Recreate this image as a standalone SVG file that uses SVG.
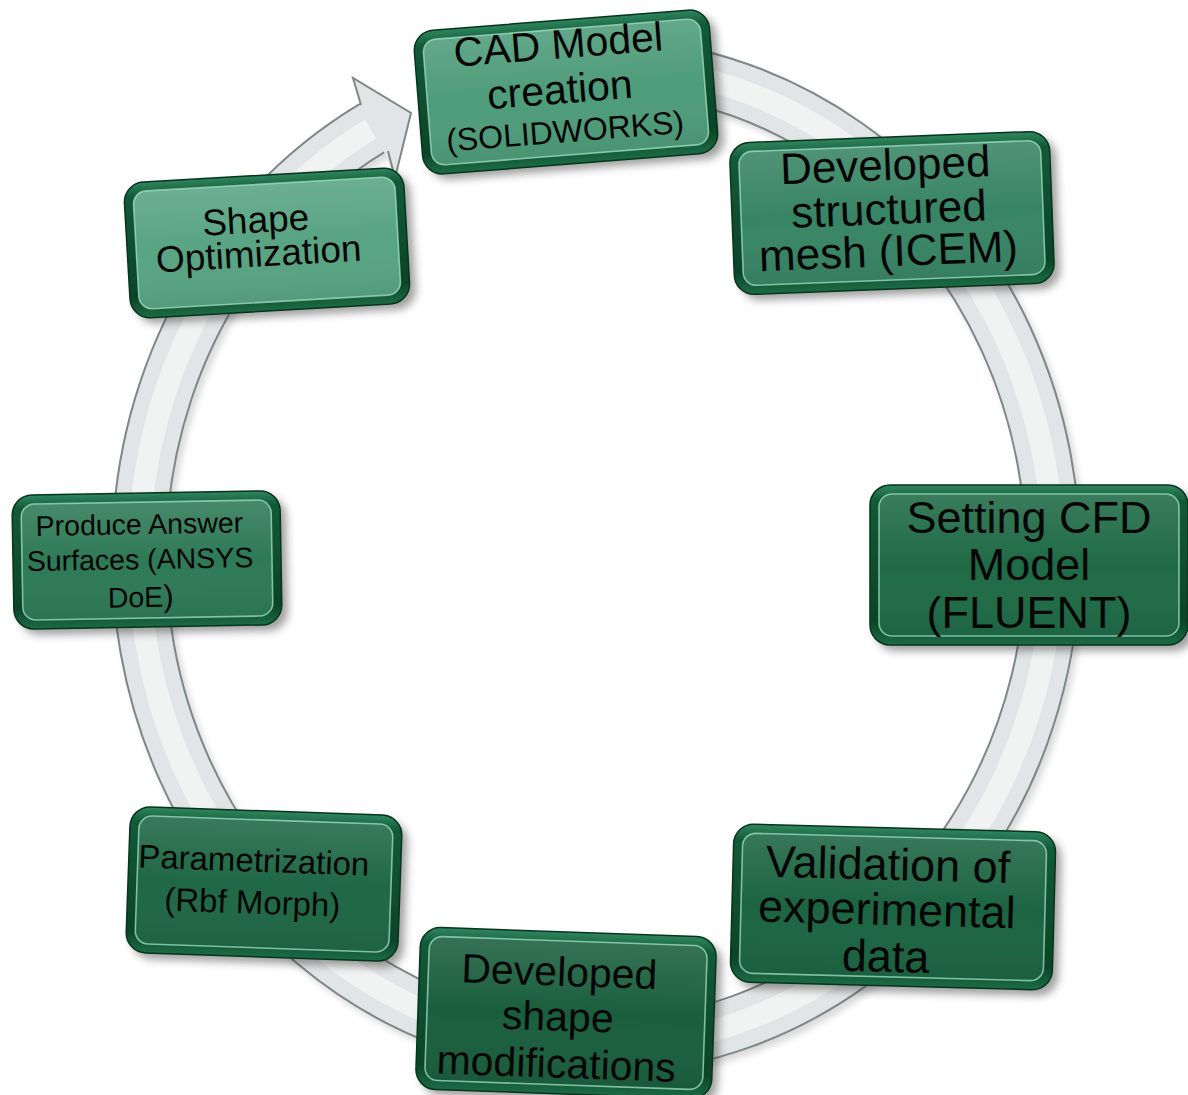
<svg xmlns="http://www.w3.org/2000/svg" width="1188" height="1095" viewBox="0 0 1188 1095">
<defs>
<filter id="blur" x="-20%" y="-20%" width="140%" height="140%"><feGaussianBlur stdDeviation="4"/></filter>
<filter id="rblur" x="-10%" y="-10%" width="120%" height="120%"><feGaussianBlur stdDeviation="3"/></filter>
<linearGradient id="frameG" x1="0" y1="0" x2="0" y2="1">
<stop offset="0" stop-color="#2f8660"/>
<stop offset="0.1" stop-color="#125a37"/>
<stop offset="0.85" stop-color="#0b4427"/>
<stop offset="1" stop-color="#1c6c47"/>
</linearGradient>
<linearGradient id="gloss" x1="0" y1="0" x2="0" y2="1">
<stop offset="0" stop-color="#ffffff" stop-opacity="0.12"/>
<stop offset="0.5" stop-color="#ffffff" stop-opacity="0"/>
<stop offset="1" stop-color="#000000" stop-opacity="0.06"/>
</linearGradient>
<style>
.sh{fill:#2a2a2a;opacity:.45;filter:url(#blur)}
.frame{fill:url(#frameG);stroke:#073519;stroke-width:1.5}
.gl{fill:url(#gloss)}
.hl{fill:none;stroke:#a3e0c4;stroke-opacity:.75;stroke-width:1.6}
.t{font-family:"Liberation Sans",Arial,sans-serif;fill:#060606;text-anchor:middle}
.ringEdge{fill:none;stroke:#7f8787;stroke-width:56}
.ringFace{fill:none;stroke:#e2e5e5;stroke-width:52}
.ringHl{fill:none;stroke:#f1f3f3;stroke-width:22}
</style>
</defs>
<rect width="1188" height="1095" fill="#ffffff"/>

<g id="connectors">
<path d="M 532.4 69.8 A 457 491 0 1 1 373.8 127" fill="none" stroke="#999" stroke-width="56" opacity=".35" filter="url(#rblur)" transform="translate(4 5)"/>
<path class="ringEdge" d="M 532.4 69.8 A 457 491 0 1 1 373.8 127"/>
<path class="ringFace" d="M 532.4 69.8 A 457 491 0 1 1 373.8 127"/>
<path class="ringHl" d="M 532.4 69.8 A 457 491 0 1 1 373.8 127"/>
<polygon points="353,78 411,113 395,178 384,152 366,121 360,104" fill="#e2e5e5"/>
<polyline points="361,105 353,78 411,113 395,178 388,151" fill="none" stroke="#7f8787" stroke-width="2" stroke-linejoin="miter"/>
</g>

<g id="n-cad" transform="translate(566 92) rotate(-4.5)">
<rect class="sh" x="-142" y="-66" width="296" height="144" rx="20"/>
<rect class="frame" x="-148" y="-72" width="296" height="144" rx="20"/>
<rect x="-139" y="-63" width="278" height="126" rx="13" fill="#4e9c7a"/>
<rect class="gl" x="-139" y="-63" width="278" height="126" rx="13"/>
<rect class="hl" x="-139" y="-63" width="278" height="126" rx="13"/>
<text class="t" font-size="41"><tspan x="-4" y="-34">CAD Model</tspan><tspan x="-6" y="11">creation</tspan><tspan x="-4" y="50" font-size="32">(SOLIDWORKS)</tspan></text>
</g>

<g id="n-icem" transform="translate(892 213) rotate(-2.2)">
<rect class="sh" x="-154" y="-70" width="320" height="152" rx="20"/>
<rect class="frame" x="-160" y="-76" width="320" height="152" rx="20"/>
<rect x="-151" y="-67" width="302" height="134" rx="13" fill="#388565"/>
<rect class="gl" x="-151" y="-67" width="302" height="134" rx="13"/>
<rect class="hl" x="-151" y="-67" width="302" height="134" rx="13"/>
<text class="t" font-size="44"><tspan x="-5" y="-33">Developed</tspan><tspan x="-3" y="11">structured</tspan><tspan x="-5" y="53">mesh (ICEM)</tspan></text>
</g>

<g id="n-shapeopt" transform="translate(267 243) rotate(-3.3)">
<rect class="sh" x="-134" y="-62" width="280" height="136" rx="20"/>
<rect class="frame" x="-140" y="-68" width="280" height="136" rx="20"/>
<rect x="-131" y="-59" width="262" height="118" rx="13" fill="#58a483"/>
<rect class="gl" x="-131" y="-59" width="262" height="118" rx="13"/>
<rect class="hl" x="-131" y="-59" width="262" height="118" rx="13"/>
<text class="t" font-size="37"><tspan x="-10" y="-11">Shape</tspan><tspan x="-9" y="23">Optimization</tspan></text>
</g>

<g id="n-doe" transform="translate(147 560) rotate(-1)">
<rect class="sh" x="-128" y="-61" width="268" height="134" rx="20"/>
<rect class="frame" x="-134" y="-67" width="268" height="134" rx="20"/>
<rect x="-125" y="-58" width="250" height="116" rx="13" fill="#2e7a56"/>
<rect class="gl" x="-125" y="-58" width="250" height="116" rx="13"/>
<rect class="hl" x="-125" y="-58" width="250" height="116" rx="13"/>
<text class="t" font-size="28.5"><tspan x="-7" y="-26">Produce Answer</tspan><tspan x="-7" y="9">Surfaces (ANSYS</tspan><tspan x="-7" y="47">DoE<tspan font-size="31">)</tspan></tspan></text>
</g>

<g id="n-cfd" transform="translate(1029 565)">
<rect class="sh" x="-153" y="-74" width="318" height="160" rx="20"/>
<rect class="frame" x="-159" y="-80" width="318" height="160" rx="20"/>
<rect x="-150" y="-71" width="300" height="142" rx="13" fill="#1f6b46"/>
<rect class="gl" x="-150" y="-71" width="300" height="142" rx="13"/>
<rect class="hl" x="-150" y="-71" width="300" height="142" rx="13"/>
<text class="t" font-size="45"><tspan x="0" y="-32">Setting CFD</tspan><tspan x="0" y="15">Model</tspan><tspan x="0" y="63">(FLUENT)</tspan></text>
</g>

<g id="n-valid" transform="translate(893 907) rotate(1.5)">
<rect class="sh" x="-155" y="-73" width="322" height="158" rx="20"/>
<rect class="frame" x="-161" y="-79" width="322" height="158" rx="20"/>
<rect x="-152" y="-70" width="304" height="140" rx="13" fill="#1c6542"/>
<rect class="gl" x="-152" y="-70" width="304" height="140" rx="13"/>
<rect class="hl" x="-152" y="-70" width="304" height="140" rx="13"/>
<text class="t" font-size="45"><tspan x="-6" y="-27">Validation of</tspan><tspan x="-6" y="18">experimental</tspan><tspan x="-6" y="65">data</tspan></text>
</g>

<g id="n-shapemod" transform="translate(566 1013) rotate(2)">
<rect class="sh" x="-142" y="-75" width="296" height="162" rx="20"/>
<rect class="frame" x="-148" y="-81" width="296" height="162" rx="20"/>
<rect x="-139" y="-72" width="278" height="144" rx="13" fill="#1a5f3d"/>
<rect class="gl" x="-139" y="-72" width="278" height="144" rx="13"/>
<rect class="hl" x="-139" y="-72" width="278" height="144" rx="13"/>
<text class="t" font-size="41"><tspan x="-8" y="-27">Developed</tspan><tspan x="-8" y="18">shape</tspan><tspan x="-8" y="65">modifications</tspan></text>
</g>

<g id="n-param" transform="translate(264 884) rotate(2)">
<rect class="sh" x="-130" y="-67" width="272" height="146" rx="20"/>
<rect class="frame" x="-136" y="-73" width="272" height="146" rx="20"/>
<rect x="-127" y="-64" width="254" height="128" rx="13" fill="#1f6845"/>
<rect class="gl" x="-127" y="-64" width="254" height="128" rx="13"/>
<rect class="hl" x="-127" y="-64" width="254" height="128" rx="13"/>
<text class="t" font-size="33"><tspan x="-11" y="-12">Parametrization</tspan><tspan x="-11" y="30">(Rbf Morph)</tspan></text>
</g>
</svg>
